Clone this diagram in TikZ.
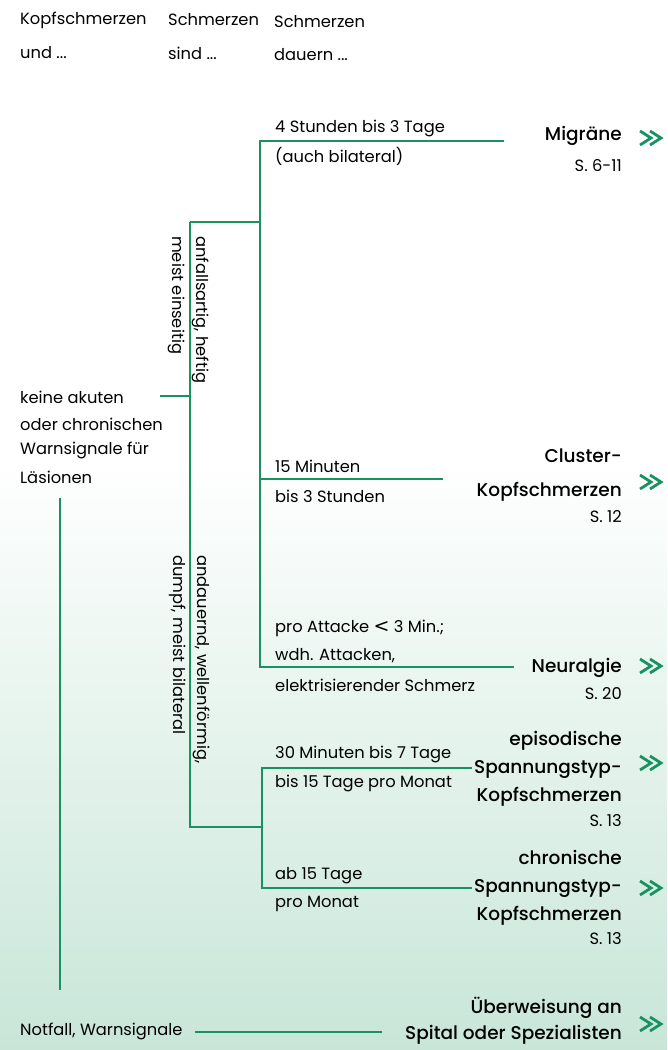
\documentclass[tikz,border=0pt]{standalone}
\usepackage{fontspec}
\setmainfont{Poppins}
\newfontfamily\medfont{Poppins Medium}
\definecolor{lgreen}{RGB}{26,145,96}
\definecolor{mint}{RGB}{200,230,216}
\tikzset{
  conn/.style={draw=lgreen,line width=2pt},
  lbl/.style={anchor=west,inner sep=0pt,font=\fontsize{16.3}{18}\selectfont},
  res/.style={anchor=east,inner sep=0pt,align=right,font=\medfont\fontsize{18.5}{28}\selectfont},
  page/.style={anchor=east,inner sep=0pt,font=\fontsize{16.3}{18}\selectfont},
  rot/.style={anchor=west,inner sep=0pt,rotate=-90,font=\fontsize{16.3}{18}\selectfont},
  chev/.style={draw=lgreen,line width=2.8pt}
}
\newcommand{\dchev}[2]{%
  \draw[chev] (#1,#2-7) -- (#1+11,#2) -- (#1,#2+7);
  \draw[chev] (#1+10,#2-7) -- (#1+21,#2) -- (#1+10,#2+7);}
\begin{document}
\begin{tikzpicture}[x=1pt,y=-1pt]
\useasboundingbox (0,0) rectangle (667,1050);
\fill[white] (0,0) rectangle (667,460);
\shade[top color=white,bottom color=mint] (0,460) rectangle (667,1050);

% headers
\node[lbl] (h1a) at (20,20) {Kopfschmerzen};
\node[lbl] (h1b) at (20,53) {und ...};
\node[lbl] (h2a) at (168,20) {Schmerzen};
\node[lbl] (h2b) at (168,53) {sind ...};
\node[lbl] (h3a) at (274,22) {Schmerzen};
\node[lbl] (h3b) at (274,55) {dauern ...};

% left text
\node[lbl] (k1) at (20,397) {keine akuten};
\node[lbl] (k2) at (20,424) {oder chronischen};
\node[lbl] (k3) at (20,450) {Warnsignale für};
\node[lbl] (k4) at (20,477) {Läsionen};
\node[lbl] (nf) at (20,1031) {Notfall, Warnsignale};

% rotated
\node[rot] (r1) at (201,236) {anfallsartig, heftig};
\node[rot] (r2) at (176,236) {meist einseitig};
\node[rot] (r3) at (202,555) {andauernd, wellenförmig,};
\node[rot] (r4) at (178,555) {dumpf, meist bilateral};

% coordinates
\coordinate (a0) at (160,396);
\coordinate (a1) at (190,396);
\coordinate (b0) at (190,222);
\coordinate (b1) at (260,222);
\coordinate (c0) at (190,827);
\coordinate (c1) at (262,827);
\coordinate (t1) at (260,141);
\coordinate (t1e) at (504,141);
\coordinate (t2) at (260,479);
\coordinate (t2e) at (443,479);
\coordinate (t3) at (260,667);
\coordinate (t3e) at (514,667);
\coordinate (u1) at (262,768);
\coordinate (u1e) at (472,768);
\coordinate (u2) at (262,888);
\coordinate (u2e) at (472,888);
\coordinate (v0) at (60,498);
\coordinate (v1) at (60,990);
\coordinate (w0) at ([xshift=12pt]nf.east);
\coordinate (w1) at (382,1032);

\draw[conn] (a0) -- (a1);
\draw[conn] (b0) -- (b1);
\draw[conn] (b0) -- (c0) -- (c1);
\draw[conn] (t1e) -- (t1) -- (t3) -- (t3e);
\draw[conn] (t2) -- (t2e);
\draw[conn] (u1e) -- (u1) -- (u2) -- (u2e);
\draw[conn] (v0) -- (v1);
\draw[conn] (w0 |- w1) -- (w1);

% branch labels
\node[lbl] (d1a) at (275,128) {4 Stunden bis 3 Tage};
\node[lbl] (d1b) at (275,156) {(auch bilateral)};
\node[lbl] (d2a) at (275,466) {15 Minuten};
\node[lbl] (d2b) at (275,496) {bis 3 Stunden};
\node[lbl] (d3a) at (275,628) {pro Attacke {\fontspec{DejaVu Sans}\fontsize{19}{20}\selectfont<} 3 Min.;};
\node[lbl] (d3b) at (275,656) {wdh. Attacken,};
\node[lbl] (d3c) at (275,685) {elektrisierender Schmerz};
\node[lbl] (d4a) at (275,754) {30 Minuten bis 7 Tage};
\node[lbl] (d4b) at (275,783) {bis 15 Tage pro Monat};
\node[lbl] (d5a) at (275,876) {ab 15 Tage};
\node[lbl] (d5b) at (275,904) {pro Monat};

% results
\node[res] (m1) at (622,136) {Migräne};
\node[page] (m1p) at (622,166) {S. 6-11};
\node[res,font=\medfont\fontsize{18.5}{34}\selectfont] (m2) at (622,475) {Cluster-\\Kopfschmerzen};
\node[page] (m2p) at (622,517) {S. 12};
\node[res] (m3) at (622,668) {Neuralgie};
\node[page] (m3p) at (622,694) {S. 20};
\node[res] (m4) at (622,769) {episodische\\Spannungstyp-\\Kopfschmerzen};
\node[page] (m4p) at (622,821) {S. 13};
\node[res] (m5) at (622,888) {chronische\\Spannungstyp-\\Kopfschmerzen};
\node[page] (m5p) at (622,939) {S. 13};
\node[res,font=\medfont\fontsize{18.5}{26}\selectfont] (m6) at (622,1021) {Überweisung an\\Spital oder Spezialisten};

\dchev{640}{138}
\dchev{640}{482}
\dchev{640}{666}
\dchev{640}{763}
\dchev{640}{888}
\dchev{640}{1024}
\end{tikzpicture}
\end{document}
